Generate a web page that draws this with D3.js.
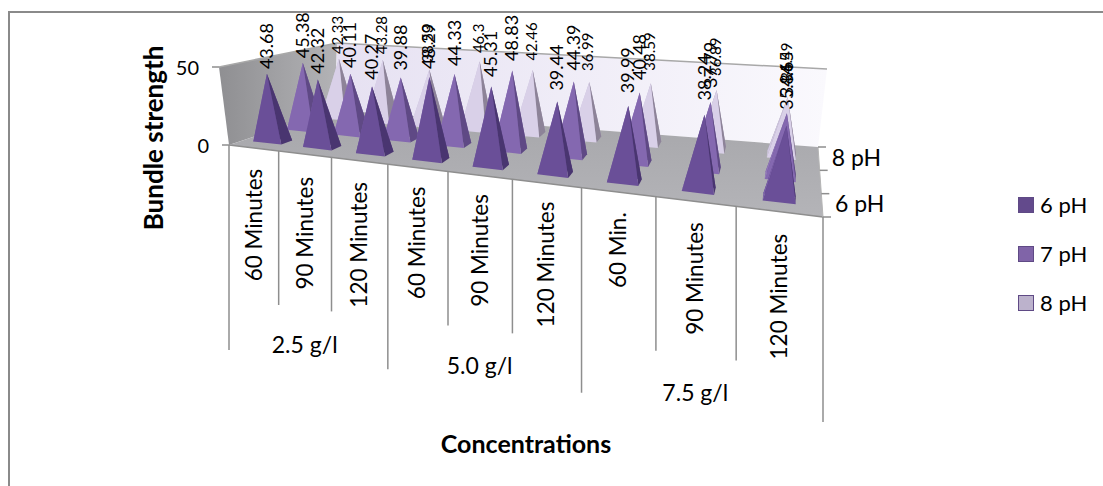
<!DOCTYPE html>
<html><head><meta charset="utf-8">
<script src="https://cdn.jsdelivr.net/npm/d3@7/dist/d3.min.js"></script>
<style>html,body{margin:0;padding:0;background:#fff}svg{display:block}text{font-family:Lato,"Open Sans",sans-serif;fill:#000}</style>
</head><body><svg id="c" width="1103" height="486"></svg>
<script>
const minutes = ["60 Minutes","90 Minutes","120 Minutes","60 Minutes","90 Minutes","120 Minutes","60 Min.","90 Minutes","120 Minutes"];
const groups = ["2.5 g/l","5.0 g/l","7.5 g/l"];
const seriesNames = ["6 pH","7 pH","8 pH"];
const pH6 = [43.68,42.32,40.27,48.29,45.31,39.44,39.99,38.24,35.84];
const pH7 = [45.38,40.11,39.88,44.33,48.83,44.39,40.48,37.79,34.65];
const pH8 = [42.33,43.28,38.53,46.3,42.46,36.99,38.59,36.89,35.49];
const valueTicks = [0,50];
const depthTickLabels = ["6 pH","8 pH"];
const values = [pH6,pH7,pH8];
const labelDrop = [77,79,84,75,75,81,58,77,85];

const svg = d3.select("#c");
const defs = svg.append("defs");
const gr = (id,a,b,x2=1,y2=0)=>{const g=defs.append("linearGradient").attr("id",id).attr("x1",0).attr("y1",0).attr("x2",x2).attr("y2",y2);
  g.append("stop").attr("offset",0).attr("stop-color",a);g.append("stop").attr("offset",1).attr("stop-color",b);};
gr("wallL","#8f8f92","#b3b3b6");gr("wallB","#e6e1f2","#faf9fd");gr("floor","#a6a6aa","#b4b4b8",0,1);
defs.append("filter").attr("id","soft").attr("x","-5%").attr("y","-5%").attr("width","110%").attr("height","110%")
  .append("feGaussianBlur").attr("stdDeviation",0.6);

svg.append("path").attr("d","M9,486V12H1103").attr("fill","none").attr("stroke","#8a8a8a").attr("stroke-width",2);

const FL=[229,145],FR=[823,217],BL=[335,110],BR=[818,147];
const TFL=[219,67],TFR=[835,107],TBL=[337,43],TBR=[827,69];
const uBand = d3.scaleBand().domain(d3.range(minutes.length)).range([0,1]);
const vPoint = d3.scalePoint().domain(seriesNames).range([0.03,1]).padding(0.5);
const hScale = d3.scaleLinear().domain([0,50]).range([0,1]);
const warp = t => t*0.73/(1-0.27*t);
const lerp = (a,b,t)=>[a[0]+(b[0]-a[0])*t,a[1]+(b[1]-a[1])*t];
const bil = (a,b,c,d,u,v)=>lerp(lerp(a,b,u),lerp(c,d,u),v);
const Pu = (u,v,h)=>lerp(bil(FL,FR,BL,BR,u,v),bil(TFL,TFR,TBL,TBR,u,v),h);
const P = (t,v,h)=>Pu(warp(t),v,h);
const poly = pts => pts.map(p=>p.map(n=>n.toFixed(1)).join(",")).join(" ");

const walls = svg.append("g");
walls.append("polygon").attr("points",poly([TFL,TBL,BL,FL])).attr("fill","url(#wallL)");
walls.append("polygon").attr("points",poly([TBL,TBR,BR,BL])).attr("fill","url(#wallB)");
walls.append("polygon").attr("points",poly([BL,BR,FR,FL])).attr("fill","url(#floor)");
walls.append("polyline").attr("points",poly([TFL,TBL,TBR])).attr("fill","none").attr("stroke","#a8a8a8").attr("stroke-width",1.5);
walls.append("polyline").attr("points",poly([FL,FR])).attr("fill","none").attr("stroke","#8e8e8e").attr("stroke-width",1.5);
walls.append("polyline").attr("points",poly([FR,BR])).attr("fill","none").attr("stroke","#b5b5b5");

const faces = [
 {f:"#6a4f98",r:"#4a3670",l:"#7a5fa8",b:"#5a4485"},
 {f:"#8468b0",r:"#5f4a85",l:"#8f74b8",b:"#6f5a95"},
 {f:"#d9d0e8",r:"#8d8398",l:"#cfc6e0",b:"#a59bb5"}];
const marks = svg.append("g").attr("filter","url(#soft)");
const labels = [];
[2,1,0].forEach(s=>{
  d3.range(minutes.length).forEach(i=>{
    const t = uBand(i)+uBand.bandwidth()/2, v=vPoint(seriesNames[s]), u=warp(t);
    const a=0.024+0.005*u, b=0.055;
    const h=hScale(values[s][i]);
    const A=Pu(u,v,h);
    const c1=Pu(u-a,v-b,0),c2=Pu(u+a,v-b,0),c3=Pu(u+a,v+b,0),c4=Pu(u-a,v+b,0);
    [[c4,c3,faces[s].b],[c4,c1,faces[s].l],[c2,c3,faces[s].r],[c1,c2,faces[s].f]].forEach(q=>{
      marks.append("polygon").attr("points",poly([q[0],q[1],A])).attr("fill",q[2]);
    });
    labels.push({x:A[0],y:A[1]-(4+13*u),txt:values[s][i],s});
  });
});
svg.append("g").selectAll("text").data(labels).join("text")
  .attr("transform",d=>`translate(${(d.x+(d.s==2?4:6)).toFixed(1)},${d.y.toFixed(1)}) rotate(-90)`)
  .attr("font-size",d=>d.s==2?15:18).text(d=>d.txt);

const axisG = svg.append("g").attr("stroke","#8e8e8e").attr("stroke-width",1.5);
d3.range(minutes.length+1).forEach(i=>{
  const p=P(i/minutes.length,0,0);
  const len=(i%3==0)?205:154;
  axisG.append("line").attr("x1",p[0]).attr("y1",p[1]).attr("x2",p[0]).attr("y2",p[1]+len);
});
svg.append("g").selectAll("text").data(minutes).join("text")
  .each(function(d,i){
    const t=uBand(i)+uBand.bandwidth()/2,p=P(t,0,0);
    d3.select(this).attr("transform",`translate(${(p[0]+8).toFixed(1)},${(p[1]+labelDrop[i]).toFixed(1)}) rotate(-90)`);
  }).attr("text-anchor","middle").attr("font-size",22.5).text(d=>d);
svg.append("g").selectAll("text").data(groups).join("text")
  .each(function(d,i){
    const p=P((i*3+1.5)/minutes.length,0,0);
    d3.select(this).attr("x",p[0]).attr("y",p[1]+199);
  }).attr("text-anchor","middle").attr("font-size",23).text(d=>d);

const vt = svg.append("g");
valueTicks.forEach(k=>{
  const p=Pu(0,0,hScale(k));
  vt.append("line").attr("x1",p[0]-7).attr("x2",p[0]).attr("y1",p[1]).attr("y2",p[1]).attr("stroke","#8e8e8e").attr("stroke-width",1.5);
  vt.append("text").attr("x",p[0]-20).attr("y",p[1]+8).attr("text-anchor","end").attr("font-size",20).text(k);
});
d3.range(4).forEach(k=>{
  const p=Pu(1,k/3,0);
  vt.append("line").attr("x1",p[0]).attr("x2",p[0]+8).attr("y1",p[1]).attr("y2",p[1]).attr("stroke","#8e8e8e").attr("stroke-width",1.5);
});
depthTickLabels.forEach(l=>{
  const p=Pu(1,vPoint(l),0);
  vt.append("text").attr("x",p[0]+13).attr("y",p[1]+8).attr("font-size",23).text(l);
});

svg.append("text").attr("transform","translate(163,138) rotate(-90)").attr("text-anchor","middle").attr("font-size",26).attr("font-weight",700).text("Bundle strength");
svg.append("text").attr("x",526).attr("y",453).attr("text-anchor","middle").attr("font-size",25).attr("font-weight",700).text("Concentrations");

const legendY = d3.scalePoint().domain(seriesNames).range([205,303]);
const legendFill=["#634a8c","#8064a8","#bcb2cc"];
const lg = svg.append("g").selectAll("g").data(seriesNames).join("g").attr("transform",d=>`translate(0,${legendY(d)})`);
lg.append("rect").attr("x",1018.5).attr("y",-7.5).attr("width",15).attr("height",15).attr("fill",(d,i)=>legendFill[i]).attr("stroke","#5f4a85").attr("stroke-width",1);
lg.append("text").attr("x",1040).attr("y",8).attr("font-size",22).text(d=>d);
</script></body></html>
